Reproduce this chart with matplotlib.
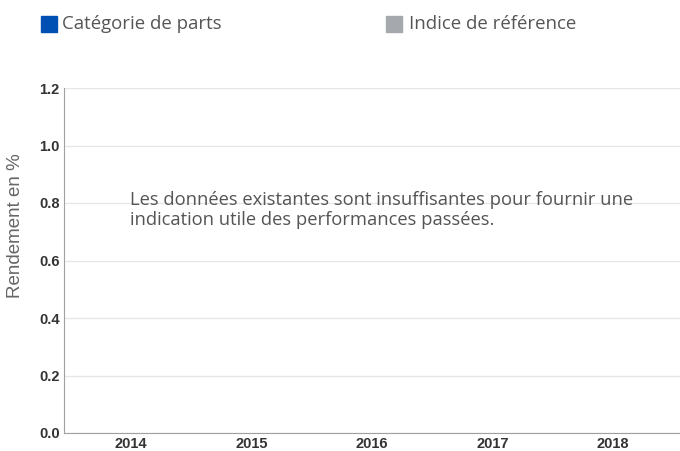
import matplotlib.pyplot as plt
from matplotlib.patches import Rectangle

years = ["2014", "2015", "2016", "2017", "2018"]
categorie_parts = []   # aucune donnée disponible
indice_reference = []  # aucune donnée disponible
series_names = ["Catégorie de parts", "Indice de référence"]
series_colors = ["#0050b4", "#a5a9ae"]
message = ("Les données existantes sont insuffisantes pour fournir une\n"
           "indication utile des performances passées.")

fig = plt.figure(figsize=(6.8, 4.51), dpi=100)
ax = fig.add_axes([64/680, 18/451, 1 - 64/680, (433-88)/451])

x = range(len(years))
ax.bar(x[:len(categorie_parts)], categorie_parts, color=series_colors[0])
ax.bar(x[:len(indice_reference)], indice_reference, color=series_colors[1])

ax.set_xlim(-0.556, 4.556)
ax.set_ylim(0, 1.2)
ax.set_xticks(list(x))
ax.set_xticklabels(years)
ax.set_yticks([0, 0.2, 0.4, 0.6, 0.8, 1.0, 1.2])
ax.set_yticklabels(["0.0", "0.2", "0.4", "0.6", "0.8", "1.0", "1.2"])
for lab in ax.get_xticklabels() + ax.get_yticklabels():
    lab.set_fontfamily("Liberation Sans")
    lab.set_fontweight("bold")
    lab.set_fontsize(10.5)
    lab.set_color("#333333")
ax.tick_params(axis="x", length=0, pad=3)
ax.tick_params(axis="y", length=0, pad=3)
ax.grid(axis="y", color="#e6e6e6", linewidth=1)
ax.set_axisbelow(True)
for s in ["top", "right"]:
    ax.spines[s].set_visible(False)
ax.spines["left"].set_color("#a0a0a0")
ax.spines["bottom"].set_color("#a0a0a0")
fig.text(15/680, 1 - 226/451, "Rendement en %", rotation=90,
         fontfamily="Liberation Sans", fontsize=13.5, color="#666666",
         va="center", ha="center")

fig.text(130/680, 1 - 210/451, message,
         fontfamily="Open Sans", fontsize=13.2, color="#555555",
         va="center", ha="left", linespacing=1.15)

# légende
for (lx, tx), name, col in zip([(41, 62), (386, 409)], series_names, series_colors):
    fig.add_artist(Rectangle((lx/680, 1 - 32/451), 16/680, 16/451,
                             transform=fig.transFigure, color=col))
    fig.text(tx/680, 1 - 24/451, name, fontfamily="Open Sans", fontsize=13.4,
             color="#555555", va="center", ha="left")

fig.savefig("out.png", dpi=100)
